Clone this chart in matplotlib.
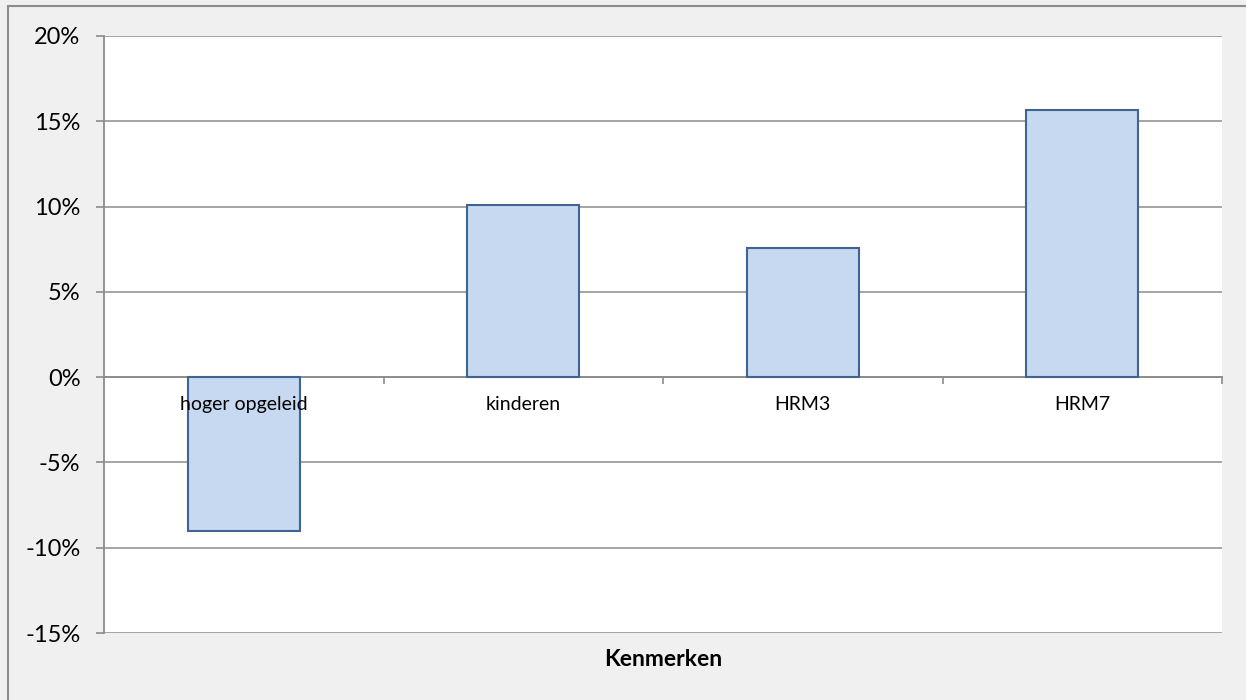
import matplotlib
matplotlib.use("Agg")
import matplotlib.pyplot as plt
from matplotlib.patches import Rectangle
from matplotlib.ticker import FuncFormatter, FixedLocator

categories = ["hoger opgeleid", "kinderen", "HRM3", "HRM7"]
values = [-9.0, 10.1, 7.6, 15.65]
y_ticks = [-15, -10, -5, 0, 5, 10, 15, 20]
x_label = "Kenmerken"

W, H = 1246, 700
fig = plt.figure(figsize=(W / 100, H / 100), dpi=100)
fig.patch.set_facecolor("#F0F0F0")

# outer chart border (left and top visible)
fig.add_artist(Rectangle((8 / W, -0.2), 2.0, 1.2 - 6 / H, transform=fig.transFigure,
                         fill=False, edgecolor="#8C8C8C", linewidth=1.5))

ax = fig.add_axes([104 / W, (H - 633) / H, 1118 / W, 597 / H])
ax.set_facecolor("white")

x = list(range(len(categories)))
ax.bar(x, values, width=0.4, color="#C6D9F1", edgecolor="#41638F", linewidth=1.5, zorder=3)

ax.set_xlim(-0.5, len(categories) - 0.5)
ax.set_ylim(y_ticks[0], y_ticks[-1])
ax.set_yticks(y_ticks)
ax.yaxis.set_major_formatter(FuncFormatter(lambda v, p: f"{int(v)}%"))
ax.grid(axis="y", color="#8C8C8C", linewidth=1.1, zorder=1)
ax.set_axisbelow(True)

for s in ["top", "right"]:
    ax.spines[s].set_visible(False)
ax.spines["left"].set_color("#8C8C8C")
ax.spines["left"].set_linewidth(1.3)
ax.spines["bottom"].set_position(("data", 0))
ax.spines["bottom"].set_color("#8C8C8C")
ax.spines["bottom"].set_linewidth(1.3)
ax.spines["bottom"].set_zorder(2)

ax.set_xticks(x)
ax.set_xticklabels([])
ax.tick_params(axis="x", which="major", length=0)
ax.xaxis.set_minor_locator(FixedLocator([0.5, 1.5, 2.5, 3.5]))
ax.tick_params(axis="x", which="minor", length=5, width=1.2, color="#8C8C8C", direction="out")

for xi, cat in zip(x, categories):
    ax.annotate(cat, xy=(xi, 0), xytext=(0, -19.5), textcoords="offset points",
                ha="center", va="center", fontsize=14, family="Lato", zorder=5,
                annotation_clip=False)

ax.tick_params(axis="y", length=6, width=1.2, color="#8C8C8C", pad=11, labelsize=17)
for lbl in ax.get_yticklabels():
    lbl.set_family("Lato")

ax.text(0.5, -27 / 597, x_label, transform=ax.transAxes, ha="center", va="center",
        fontsize=16.5, fontweight="bold", family="Lato")

fig.savefig("out.png", dpi=100, facecolor=fig.get_facecolor())
